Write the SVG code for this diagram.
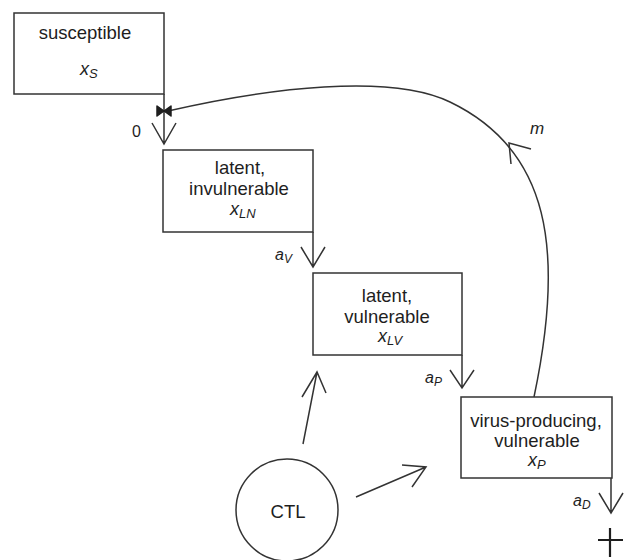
<svg xmlns="http://www.w3.org/2000/svg" width="624" height="560" viewBox="0 0 624 560">
<style>
.box{fill:#fff;stroke:#333;stroke-width:1.5}
.t{font-family:"Liberation Sans",Arial,sans-serif;font-size:18.5px;fill:#1e1e1e;text-anchor:middle}
.v{font-family:"Liberation Sans",Arial,sans-serif;font-style:italic;fill:#1e1e1e}
.lbl{font-family:"Liberation Sans",Arial,sans-serif;font-size:16px;fill:#1e1e1e}
.ln{fill:none;stroke:#333;stroke-width:1.5}
</style>
<rect width="624" height="560" fill="#fff"/>
<g id="connectors">
  <path class="ln" d="M164,94 V144 M152,123 L164,144 L176,123"/>
  <path class="ln" d="M313,232 V267 M301,247 L313,267 L325,247"/>
  <path class="ln" d="M462,355 V388 M450,370 L462,388 L474,370"/>
  <path class="ln" d="M611,478 V513 M599,493 L611,513 L623,493"/>
  <path class="ln" d="M534,397 C565,250 550,150 450,102 C390,73 268,88 168,111"/>
  <path class="ln" d="M511,164 L509,143 L531,149"/>
  <path d="M157,106 L164,111 L157,116 Z M171,106 L164,111 L171,116 Z" fill="#1e1e1e" stroke="#1e1e1e" stroke-width="1.5" stroke-linejoin="round"/>
  <path class="ln" d="M303,444 L317,372 M302,397 L317,372 L326,393"/>
  <path class="ln" d="M356,497 L426,467 M402,465 L426,467 L412,487"/>
  <path d="M598,540 H623 M610,528 V557" fill="none" stroke="#1e1e1e" stroke-width="2.2"/>
  <text class="lbl" x="132" y="137">0</text>
  <text class="v" x="530" y="134" font-size="17">m</text>
  <text class="v" x="275" y="260" font-size="16">a<tspan font-size="12" dy="3">V</tspan></text>
  <text class="v" x="425" y="383" font-size="16">a<tspan font-size="12" dy="3">P</tspan></text>
  <text class="v" x="573" y="506" font-size="16">a<tspan font-size="12" dy="3">D</tspan></text>
</g>
<g id="susceptible">
  <rect class="box" x="14" y="13" width="150" height="81"/>
  <text class="t" x="85" y="39">susceptible</text>
  <text class="v" x="80" y="75" font-size="18">x<tspan font-size="13" dy="3">S</tspan></text>
</g>
<g id="latent-invulnerable">
  <rect class="box" x="163" y="150" width="150" height="82"/>
  <text class="t" x="240" y="174">latent,</text>
  <text class="t" x="239" y="195">invulnerable</text>
  <text class="v" x="230" y="215" font-size="18">x<tspan font-size="13" dy="3">LN</tspan></text>
</g>
<g id="latent-vulnerable">
  <rect class="box" x="313" y="273" width="149" height="82"/>
  <text class="t" x="387" y="302">latent,</text>
  <text class="t" x="387" y="323">vulnerable</text>
  <text class="v" x="378" y="342" font-size="18">x<tspan font-size="13" dy="3">LV</tspan></text>
</g>
<g id="virus-producing">
  <rect class="box" x="461" y="397" width="151" height="81"/>
  <text class="t" x="536" y="427">virus-producing,</text>
  <text class="t" x="537" y="447">vulnerable</text>
  <text class="v" x="528" y="466" font-size="18">x<tspan font-size="13" dy="3">P</tspan></text>
</g>
<g id="CTL">
  <circle cx="287" cy="510" r="51" fill="#fff" stroke="#333" stroke-width="1.5"/>
  <text class="t" x="288" y="518" font-size="20">CTL</text>
</g>
</svg>
